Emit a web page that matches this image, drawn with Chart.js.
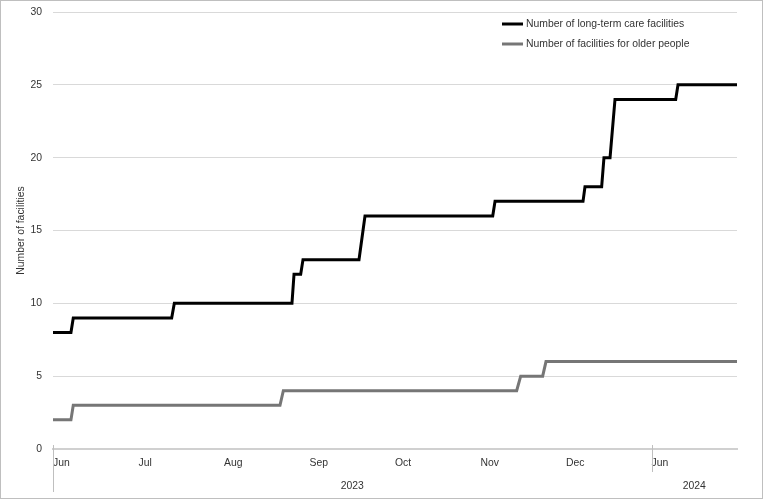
<!DOCTYPE html>
<html>
<head>
<meta charset="utf-8">
<script src="https://cdn.jsdelivr.net/npm/chart.js@4"></script>
<style>
  html, body { margin: 0; padding: 0; background: #fff; }
  #wrap { width: 763px; height: 499px; position: relative; }
</style>
</head>
<body>
<div id="wrap"><canvas id="chart" width="763" height="499"></canvas></div>
<script>
// --- data (x = position in months from the start of the axis) ---
const monthLabels = ["Jun", "Jul", "Aug", "Sep", "Oct", "Nov", "Dec", "Jun"];
const yearLabels = ["2023", "2024"];
const yearStartMonth = [0, 7]; // first month index of each year group

const careX = [0, 0.21, 0.237, 1.388, 1.419, 2.795, 2.819, 2.897, 2.924, 3.579, 3.649,
  5.143, 5.17, 6.199, 6.222, 6.417, 6.444, 6.515, 6.573, 7.283, 7.31, 8];
const careY = [8, 8, 9, 9, 10, 10, 12, 12, 13, 13, 16,
  16, 17, 17, 18, 18, 20, 20, 24, 24, 25, 25];

const olderX = [0, 0.21, 0.237, 2.655, 2.694, 5.423, 5.47, 5.727, 5.766, 8];
const olderY = [2, 2, 3, 3, 4, 4, 5, 5, 6, 6];

const seriesNames = ["Number of long-term care facilities", "Number of facilities for older people"];
const yTitle = "Number of facilities";

const FONT = "'Liberation Sans', Arial, sans-serif";
const FSIZE = 10.4;
const TEXT = "#333333";

const toPoints = (xs, ys) => xs.map((x, i) => ({ x: x, y: ys[i] }));

// frame, year row of the axis and the legend
const extras = {
  id: "extras",
  afterDraw(chart) {
    const { ctx, chartArea, scales } = chart;
    const x = scales.x;
    ctx.save();

    // outer frame
    ctx.strokeStyle = "#bfbfbf";
    ctx.lineWidth = 1;
    ctx.strokeRect(0.5, 0.5, chart.width - 1, chart.height - 1);

    // year separators + labels
    ctx.strokeStyle = "#bfbfbf";
    yearStartMonth.forEach((m, i) => {
      const px = Math.round(x.getPixelForValue(m)) + 0.5;
      ctx.beginPath();
      ctx.moveTo(px, chartArea.bottom - 4);
      ctx.lineTo(px, chartArea.bottom + (i === 0 ? 43 : 23));
      ctx.stroke();
    });
    ctx.fillStyle = TEXT;
    ctx.font = FSIZE + "px " + FONT;
    ctx.textAlign = "center";
    ctx.textBaseline = "middle";
    yearLabels.forEach((lab, i) => {
      const from = yearStartMonth[i];
      const to = i + 1 < yearStartMonth.length ? yearStartMonth[i + 1] : monthLabels.length;
      const cx = x.getPixelForValue((from + to) / 2);
      ctx.fillText(lab, cx, chartArea.bottom + 37);
    });

    // legend
    ctx.textAlign = "left";
    chart.data.datasets.forEach((ds, i) => {
      const ly = 24 + i * 20;
      ctx.strokeStyle = ds.borderColor;
      ctx.lineWidth = 3;
      ctx.beginPath();
      ctx.moveTo(502, ly);
      ctx.lineTo(523, ly);
      ctx.stroke();
      ctx.fillStyle = TEXT;
      ctx.fillText(ds.label, 526, ly);
    });
    ctx.restore();
  },
};

const ctx = document.getElementById("chart").getContext("2d");
const chart = new Chart(ctx, {
  type: "line",
  data: {
    datasets: [
      {
        label: seriesNames[0],
        data: toPoints(careX, careY),
        borderColor: "#000000",
        borderWidth: 3,
        pointRadius: 0,
        tension: 0,
        fill: false,
      },
      {
        label: seriesNames[1],
        data: toPoints(olderX, olderY),
        borderColor: "#767676",
        borderWidth: 3,
        pointRadius: 0,
        tension: 0,
        fill: false,
      },
    ],
  },
  options: {
    responsive: false,
    animation: false,
    layout: { padding: { top: 12, right: 26, left: 0, bottom: 0 } },
    plugins: {
      legend: { display: false },
      tooltip: { enabled: false },
    },
    scales: {
      x: {
        type: "linear",
        min: 0,
        max: monthLabels.length,
        afterFit: (s) => { s.height = 50; },
        grid: { display: false, drawTicks: false },
        border: { display: true, color: "#d0d0d0", width: 2 },
        ticks: {
          stepSize: 1,
          autoSkip: false,
          maxRotation: 0,
          align: "start",
          padding: 8,
          color: TEXT,
          font: { family: FONT, size: FSIZE },
          callback: (v) => monthLabels[v] || "",
        },
      },
      y: {
        min: 0,
        max: 30,
        afterFit: (s) => { s.width = 53; },
        grid: { color: "#d9d9d9", drawTicks: true, tickLength: 11, tickColor: "rgba(0,0,0,0)" },
        border: { display: false },
        ticks: {
          stepSize: 5,
          padding: 0,
          color: TEXT,
          font: { family: FONT, size: FSIZE },
        },
        title: {
          display: true,
          text: yTitle,
          color: TEXT,
          padding: { top: 15, bottom: 0 },
          font: { family: FONT, size: FSIZE },
        },
      },
    },
  },
  plugins: [extras],
});
</script>
</body>
</html>
